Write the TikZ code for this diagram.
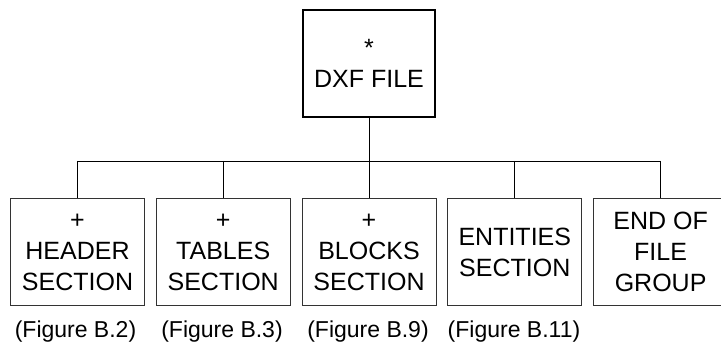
\documentclass[tikz,border=0pt]{standalone}
\usepackage{fontspec}
\setmainfont{Liberation Sans}
\begin{document}
\begin{tikzpicture}[x=1pt,y=-1pt,
  boxtext/.style={font=\fontsize{25}{31}\selectfont, align=center, inner sep=0pt},
  topbox/.style={boxtext, draw=black, line width=2.4pt, minimum width=131.6pt, minimum height=106.6pt},
  secbox/.style={boxtext, draw=black!80, line width=0.9pt, minimum width=134pt, minimum height=107pt},
  figlabel/.style={font=\fontsize{23}{28}\selectfont, inner sep=0pt},
  conn/.style={draw=black, line width=0.9pt}]
\useasboundingbox (0,0) rectangle (721,347);
\clip (0,0) rectangle (721,347);
\node[topbox] (top) at (369,63.5) {*\\DXF FILE};
\node[secbox] (b1) at (77.5,252) {+\\HEADER\\SECTION};
\node[secbox] (b2) at (223.2,252) {+\\TABLES\\SECTION};
\node[secbox] (b3) at (369,252) {+\\BLOCKS\\SECTION};
\node[secbox] (b4) at (514.8,252) {ENTITIES\\SECTION};
\node[secbox] (b5) at (660.6,252) {END OF\\FILE\\GROUP};
\coordinate (j) at (369,161);
\coordinate (h1) at (b1.north |- j);
\coordinate (h2) at (b2.north |- j);
\coordinate (h4) at (b4.north |- j);
\coordinate (h5) at (b5.north |- j);
\draw[conn] (top.south) -- (j);
\draw[conn] (h1) -- (h5);
\draw[conn] (h1) -- (b1.north);
\draw[conn] (h2) -- (b2.north);
\draw[conn] (j) -- (b3.north);
\draw[conn] (h4) -- (b4.north);
\draw[conn] (h5) -- (b5.north);
\node[figlabel] (l1) at (75.5,332) {(Figure B.2)};
\node[figlabel] (l2) at (222,332) {(Figure B.3)};
\node[figlabel] (l3) at (368,332) {(Figure B.9)};
\node[figlabel] (l4) at (514,332) {(Figure B.11)};
\end{tikzpicture}
\end{document}
